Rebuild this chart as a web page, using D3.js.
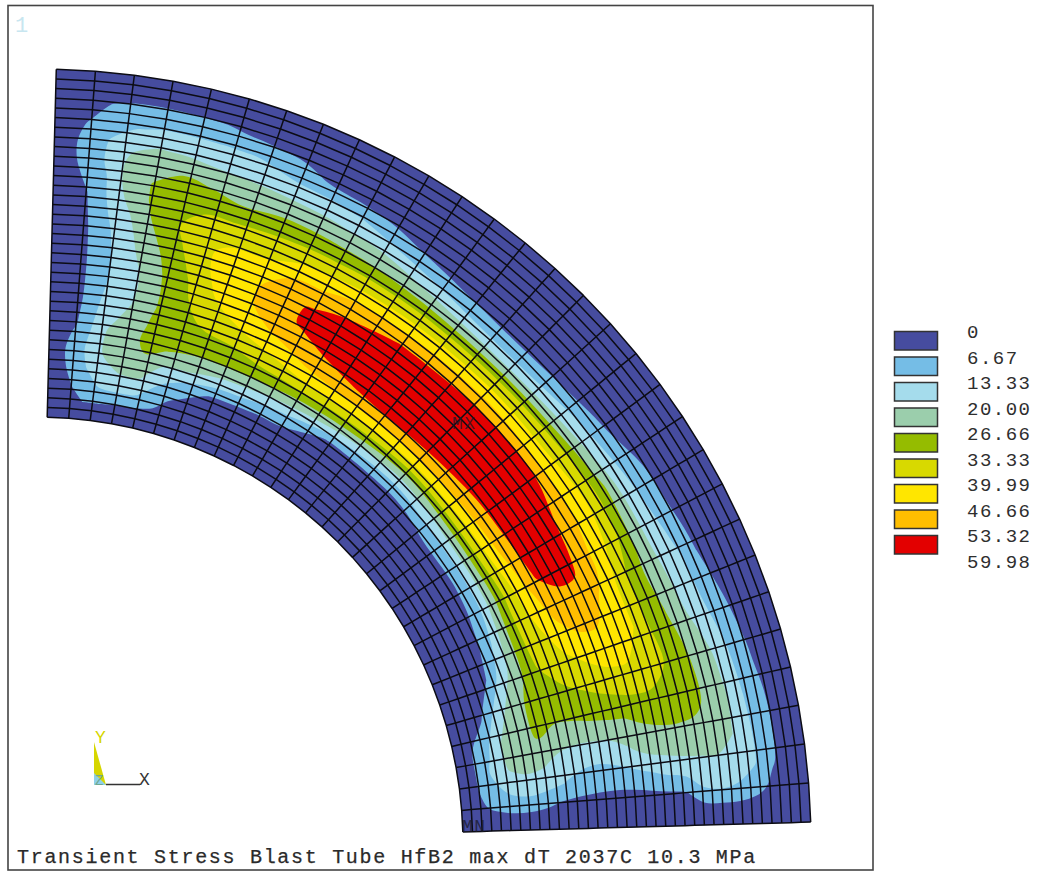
<!DOCTYPE html>
<meta charset="utf-8">
<script src="https://d3js.org/d3.v7.min.js"></script>
<style>
    body { margin: 0; background: #fff; }
    text { font-family: "Liberation Mono", monospace; }
    .mesh { fill: none; stroke: #0c0c14; stroke-width: 1.5; stroke-linejoin: round; }
    .legend_label { font-size: 19px; letter-spacing: 1.5px; fill: #2e2e2e; }
    #title_text { font-size: 20px; letter-spacing: 1.7px; fill: #2a2a2a; stroke: #2a2a2a; stroke-width: 0.25; }
    .node_label { font-size: 18px; letter-spacing: 1.5px; fill: #1a1a2a; opacity: 0.75; }
</style>
<div id="my_dataviz"></div>
<script>
const legendLabels = ["0", "6.67", "13.33", "20.00", "26.66", "33.33", "39.99", "46.66", "53.32", "59.98"];
const thresholds = [6.67, 13.33, 20.00, 26.66, 33.33, 39.99, 46.66, 53.32];
const bandColors = ["#464c9f", "#75bde6", "#a5dcec", "#9bceac", "#95bc00", "#d8d900", "#ffe600", "#ffbe00", "#e30000"];

// sections through the wall, degrees clockwise from Y and fraction of wall thickness
const angleStations = [1.5, 3, 4.5, 6, 8, 10, 12.5, 15, 18, 21.5, 25, 27.5, 30, 36, 45, 52, 58, 62, 64, 66, 70, 74, 78, 81, 83.5, 85.5, 87, 88.4];
const depthStations = [0, .05, .1, .15, .2, .25, .3, .35, .4, .45, .5, .55, .6, .65, .7, .75, .8, .85, .9, .95, 1];

// stress in MPa, one row per angle station
const stress = [
    [2.5, 2.5, 2.5, 2.5, 2.5, 2.5, 2.5, 2.5, 2.5, 2.5, 2.5, 2.5, 2.5, 2.5, 2.5, 2.5, 2.5, 2.5, 2.5, 2.5, 2.5],
    [2, 3, 4, 5.5, 6, 5.5, 5, 4.5, 4.3, 4.3, 4.3, 4.3, 4.5, 5, 5.5, 6, 6, 5, 3.5, 2.5, 2],
    [2.5, 5, 7, 8.5, 8.5, 7.2, 6, 5, 4.8, 4.8, 5, 5.4, 6, 6.6, 7.5, 8.5, 8.5, 7.5, 5, 3, 2],
    [2, 6.67, 10.5, 13.3, 15, 13.3, 12, 11.2, 10.8, 10.7, 10.9, 11, 11.8, 12.5, 13, 14.5, 13.8, 11.5, 7.5, 4, 2],
    [2, 6.67, 14, 18, 21, 21, 18.5, 16.5, 15, 14.5, 15, 16, 18, 21, 23, 22, 18.5, 13, 8.5, 4, 2],
    [2.5, 6, 15, 20.5, 24, 24, 22, 19.8, 19, 19.5, 21.5, 23.5, 25.5, 26.8, 26.8, 24, 20.2, 14, 8.5, 4, 2],
    [3, 5.5, 14.5, 21, 26, 28, 27.5, 26.4, 26.2, 26.66, 28, 30, 32, 33, 31, 25.5, 19.5, 14, 8, 4, 2.5],
    [3, 5.5, 8.5, 15, 21, 28.5, 30, 31, 32, 33, 35, 37, 37, 33, 29, 24, 18, 13.6, 7.5, 4, 2.5],
    [3, 4, 5, 10, 20.5, 27, 31.5, 35, 38.5, 41, 43, 42, 38, 33, 26.66, 22.2, 17.8, 13, 6, 3.5, 2.5],
    [3, 3.5, 4, 6, 18, 27, 32, 38.5, 43, 46, 46, 43, 38, 33.5, 27.5, 22, 15.7, 9, 5, 3, 2.5],
    [3, 3, 3.5, 5, 16.5, 27, 35, 42, 48, 51.5, 52, 48.5, 41, 34, 27.3, 21, 15, 5.5, 3.5, 2.8, 2.5],
    [3, 3, 3.5, 4.5, 14.5, 26.66, 36.5, 45, 50.5, 54.5, 54, 48.5, 42, 34, 26.66, 20, 13.3, 4.5, 3.5, 2.8, 2.5],
    [3, 3, 3.5, 4.5, 13.3, 25.5, 38.5, 47.5, 53, 56, 55, 51.5, 43, 34.5, 26, 19.3, 10, 4, 3.5, 2.8, 2.5],
    [3, 3, 3, 3.5, 5.5, 23.5, 38.5, 51.5, 56.5, 58, 57.5, 53.3, 44, 34.5, 23, 13.3, 5, 4, 3.5, 3, 2.5],
    [3, 3, 3, 3.5, 5.5, 17.5, 36.5, 51.5, 57, 59.5, 58.5, 54.5, 44.5, 34.5, 20, 8, 4.5, 4, 3.5, 3, 2.5],
    [3, 3, 3, 3.5, 8, 21.5, 37.5, 49.5, 56, 59, 58.5, 55, 43, 36, 22, 13.3, 5, 4, 3.5, 3, 2.5],
    [3, 3, 3, 3.5, 8, 22.5, 37, 47.5, 55.5, 58, 56.5, 51, 44.5, 38, 27.5, 16, 9.5, 4.5, 4, 3, 2.5],
    [3, 3, 3, 3.5, 9, 22.5, 35, 44.5, 53.5, 56.5, 55, 49, 43, 36, 26, 17.5, 11.5, 5, 4, 3, 2.5],
    [3, 3, 3, 3.7, 10.5, 24, 35.5, 43, 50, 53, 53, 49, 41.5, 33.3, 25.5, 18, 12.7, 6, 4, 3, 2.5],
    [3, 3, 3, 4, 12.5, 25, 35.5, 41, 48, 52, 51, 46, 40, 31, 25, 19, 13.8, 6.67, 4, 3, 2.5],
    [3, 3, 3.5, 6.67, 17.5, 26, 34, 37.5, 41, 44, 45, 44, 40, 32, 27, 20.6, 15, 9, 4, 3, 2.5],
    [3, 3.5, 5.5, 16, 24, 28, 30, 32, 33.8, 36, 38, 38.5, 37, 33.3, 29, 24.5, 19, 11.5, 6, 3, 2.5],
    [3, 6, 12.5, 22, 25.5, 27, 25.5, 25, 25.5, 26, 26.5, 28, 28.8, 28.8, 28, 25.5, 20.5, 13.3, 7.5, 3.5, 2.5],
    [3, 6.4, 14.5, 20.5, 22, 21, 17.5, 15.5, 15, 16, 19.3, 22.5, 23.5, 24, 24, 23, 20, 14, 8, 3.5, 2.5],
    [3, 6, 11.5, 15, 16.5, 15.5, 13.3, 11.5, 10.5, 10.5, 11, 12.5, 14.5, 16, 17, 18, 17, 14, 7.5, 3.5, 2.5],
    [3, 5, 8, 10, 10, 8, 6, 5, 4.5, 4.2, 4.5, 5, 5.6, 6.4, 12.5, 13, 12, 9, 5, 3, 2.5],
    [3, 3, 3.5, 4, 3.8, 3.5, 3, 3, 3, 3, 3, 3, 3, 3, 3.5, 4, 4, 3.5, 3, 3, 2.5],
    [2.5, 2.5, 2.5, 2.5, 2.5, 2.5, 2.5, 2.5, 2.5, 2.5, 2.5, 2.5, 2.5, 2.5, 2.5, 2.5, 2.5, 2.5, 2.5, 2.5, 2.5]
];

const meshColumns = 30, meshRows = 36;

const width = 1040, height = 871;
const center = {x: 36, y: 844};

const svg = d3.select("#my_dataviz").append("svg")
    .attr("width", width)
    .attr("height", height);

// plot frame
svg.append("rect").attr("x", 8).attr("y", 5.5).attr("width", 865).attr("height", 864.5)
    .attr("fill", "#fff").attr("stroke", "#444").attr("stroke-width", 1.6);

const plot = svg.append("g").attr("transform", "translate(" + center.x + "," + center.y + ")");

const angle = d3.scaleLinear().domain([0, 90]).range([0, Math.PI / 2]);
const radius = d3.scaleLinear().domain([0, 1]).range([427, 775]);

const radial = d3.lineRadial()
    .angle(d => angle(d[0]))
    .radius(d => radius(d[1]));

// contour cells sit at i + 0.5 in the grid that d3.contours hands back
const gridAngle = d3.scaleLinear().domain(angleStations.map((d, i) => i + 0.5)).range(angleStations).clamp(true);
const gridDepth = d3.scaleLinear().domain(depthStations.map((d, i) => i + 0.5)).range(depthStations).clamp(true);
const meshAngle = d3.scaleLinear().domain([0, meshColumns]).range([1.5, 88.38]);
const meshDepth = d3.scaleLinear().domain([0, meshRows]).range([0, 1]);

function setBase() {
    const outer = d3.range(meshColumns + 1).map(i => [meshAngle(i), 1]);
    const inner = d3.range(meshColumns + 1).map(i => [meshAngle(meshColumns - i), 0]);
    plot.append("path")
        .attr("d", radial(outer.concat(inner)) + "Z")
        .attr("fill", bandColors[0]);
}

function setBands() {
    const n = angleStations.length, m = depthStations.length;
    const values = [];
    for (let j = 0; j < m; j++) {
        for (let i = 0; i < n; i++) values.push(stress[i][j]);
    }
    const contours = d3.contours().size([n, m]).thresholds(thresholds)(values);
    const ring = d3.lineRadial()
        .angle(d => angle(gridAngle(d[0])))
        .radius(d => radius(gridDepth(d[1])))
        .curve(d3.curveCatmullRomClosed.alpha(0.5));

    plot.selectAll(".band").data(contours).join("path")
        .attr("class", "band")
        .attr("fill", (d, i) => bandColors[i + 1])
        .attr("fill-rule", "evenodd")
        .attr("d", d => d.coordinates.map(poly => poly.map(r => ring(r.slice(0, -1))).join("")).join(""));
}

function setMesh() {
    const mesh = plot.append("g").attr("class", "mesh");
    d3.range(meshRows + 1).forEach(j => {
        mesh.append("path").attr("d", radial(d3.range(meshColumns + 1).map(i => [meshAngle(i), meshDepth(j)])));
    });
    d3.range(meshColumns + 1).forEach(i => {
        mesh.append("path").attr("d", radial(d3.range(meshRows + 1).map(j => [meshAngle(i), meshDepth(j)])));
    });
}

function setLegend() {
    const y = d3.scaleLinear().domain([0, 1]).range([331.5, 357]);
    svg.selectAll(".swatch").data(bandColors).join("rect")
        .attr("class", "swatch")
        .attr("x", 894.5).attr("y", (d, i) => y(i))
        .attr("width", 43).attr("height", 18.5)
        .attr("fill", d => d).attr("stroke", "#333").attr("stroke-width", 1.5);
    svg.selectAll(".legend_label").data(legendLabels).join("text")
        .attr("class", "legend_label")
        .attr("x", 967).attr("y", (d, i) => y(i) + 6.5)
        .text(d => d);
}

function setText() {
    svg.append("text").attr("id", "title_text").attr("x", 17).attr("y", 863)
        .text("Transient Stress Blast Tube HfB2 max dT 2037C 10.3 MPa");
    svg.append("text").attr("x", 15).attr("y", 32).attr("font-size", 22).attr("fill", "#c8e6f0").text("1");
    svg.append("text").attr("class", "node_label").attr("x", 452).attr("y", 429).text("MX");
    svg.append("text").attr("class", "node_label").attr("x", 462).attr("y", 832).text("MN");
}

function setTriad() {
    svg.append("path").attr("d", "M94,742L94,785L106,785Z").attr("fill", "#d6d600");
    svg.append("path").attr("d", "M94,773L94,785L106,785Z").attr("fill", "#8fd0e8");
    svg.append("line").attr("x1", 106).attr("y1", 784.5).attr("x2", 140).attr("y2", 784.5)
        .attr("stroke", "#333").attr("stroke-width", 1.3);
    svg.append("text").attr("x", 139).attr("y", 785).attr("font-size", 18).attr("fill", "#333").text("X");
    svg.append("text").attr("x", 95).attr("y", 743).attr("font-size", 18).attr("fill", "#d6d600").text("Y");
    svg.append("text").attr("x", 95).attr("y", 785).attr("font-size", 14).attr("fill", "#6fa88f").text("Z");
}

function main() {
    setBase();
    setBands();
    setMesh();
    setLegend();
    setText();
    setTriad();
}

main();
</script>
